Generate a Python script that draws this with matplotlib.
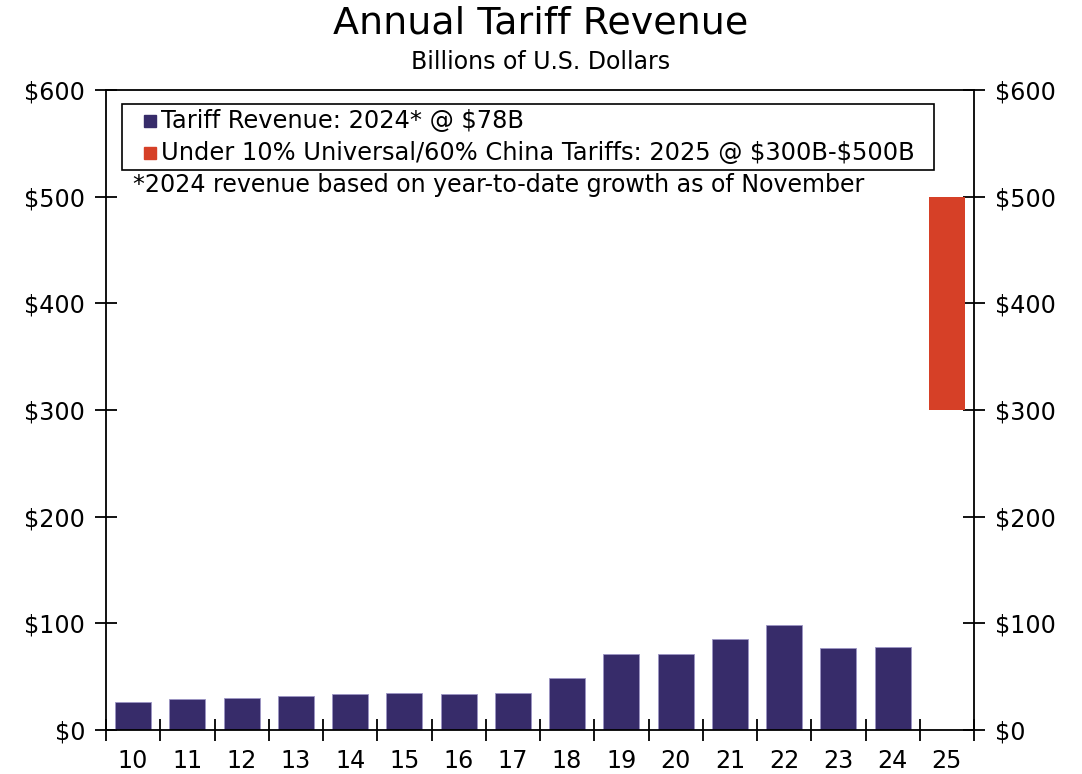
import matplotlib
matplotlib.use("Agg")
import matplotlib.pyplot as plt
from matplotlib.patches import Rectangle
import numpy as np

# Annual tariff revenue, billions of USD (fiscal years 2010-2024)
years = ["10", "11", "12", "13", "14", "15", "16", "17", "18",
         "19", "20", "21", "22", "23", "24", "25"]
revenue = [26, 29, 30, 32, 34, 34.5, 34, 35, 49, 71, 71, 85.5, 98, 77, 78]
# 2025 projected range under 10% universal / 60% China tariffs
proj_low, proj_high = 300, 500

y_ticks = [0, 100, 200, 300, 400, 500, 600]
y_labels = ["$0", "$100", "$200", "$300", "$400", "$500", "$600"]

navy = "#372C6A"
red = "#D64027"

plt.rcParams["font.family"] = ["DejaVu Sans"]
plt.rcParams["text.parse_math"] = False

fig = plt.figure(figsize=(10.82, 7.74), dpi=100)
ax = fig.add_axes([106 / 1082, 1 - 730 / 774, (974 - 106) / 1082, (730 - 90) / 774])

x = np.arange(len(years))
ax.bar(x[:len(revenue)], revenue, width=0.66, color=navy,
       edgecolor="#9C94C4", linewidth=0.6, zorder=2)
ax.bar(x[-1], proj_high - proj_low, bottom=proj_low, width=0.66,
       color=red, linewidth=0, zorder=2)

ax.set_xlim(-0.5, len(years) - 0.5)
ax.set_ylim(0, 600)

ax.set_yticks(y_ticks)
ax.set_yticklabels(y_labels)
ax.tick_params(axis="y", direction="inout", length=16, width=1.3,
               labelsize=17.2, left=True, right=True,
               labelleft=True, labelright=True, pad=7)

# category labels centred, tick marks on the boundaries
ax.set_xticks(x)
ax.set_xticklabels(years)
ax.set_xticks(np.arange(-0.5, len(years), 1.0), minor=True)
ax.tick_params(axis="x", which="major", length=0, labelsize=17.2, pad=14)
ax.tick_params(axis="x", which="minor", direction="inout", length=16, width=1.3)

for s in ax.spines.values():
    s.set_linewidth(1.3)

# title and subtitle
fig.text(0.5, 1 - 24 / 774, "Annual Tariff Revenue", ha="center", va="center",
         fontsize=27.4)
fig.text(0.5, 1 - 62 / 774, "Billions of U.S. Dollars", ha="center", va="center",
         fontsize=17)

# legend box
bx0, bx1, by0, by1 = 122, 934, 104, 170
fig.patches.append(Rectangle((bx0 / 1082, 1 - by1 / 774), (bx1 - bx0) / 1082,
                             (by1 - by0) / 774, transform=fig.transFigure,
                             fill=False, edgecolor="black", linewidth=1.2))
entries = [(navy, "Tariff Revenue: 2024* @ $78B", 121),
           (red, "Under 10% Universal/60% China Tariffs: 2025 @ $300B-$500B", 153)]
for col, label, yy in entries:
    fig.patches.append(Rectangle((144 / 1082, 1 - (yy + 6) / 774), 12 / 1082, 12 / 774,
                                 transform=fig.transFigure, color=col))
    fig.text(161 / 1082, 1 - yy / 774, label, ha="left", va="center", fontsize=17.4)

fig.text(133 / 1082, 1 - 185 / 774,
         "*2024 revenue based on year-to-date growth as of November",
         ha="left", va="center", fontsize=17.1)

fig.savefig("out.png", dpi=100)
